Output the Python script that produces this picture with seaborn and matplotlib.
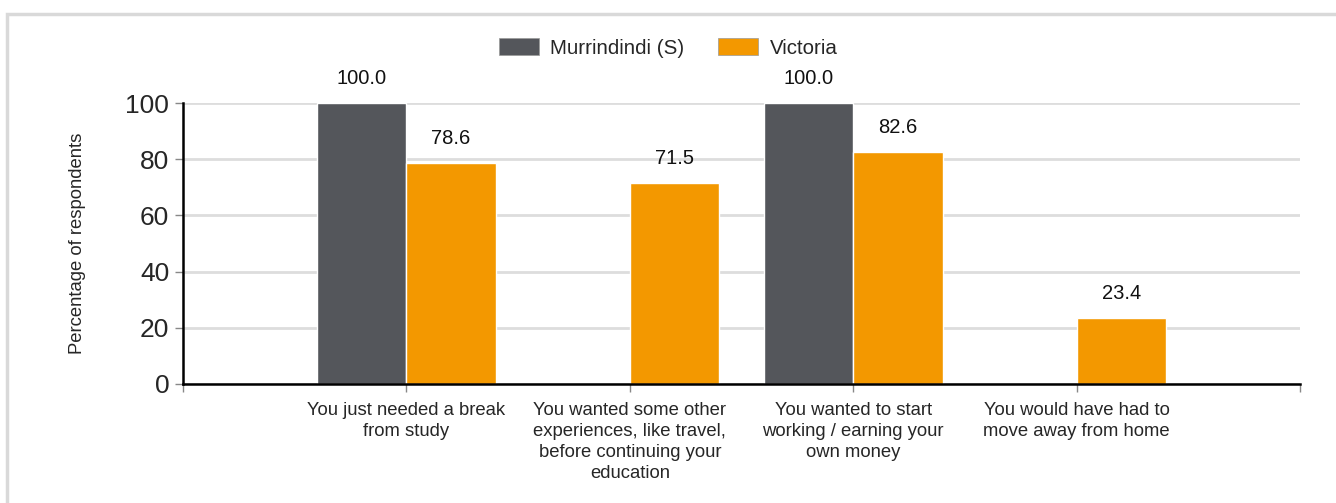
import matplotlib.pyplot as plt
import matplotlib.patches as mpatches
import pandas as pd
import seaborn as sns

categories = [
    "You just needed a break\nfrom study",
    "You wanted some other\nexperiences, like travel,\nbefore continuing your\neducation",
    "You wanted to start\nworking / earning your\nown money",
    "You would have had to\nmove away from home",
]
series = ["Murrindindi (S)", "Victoria"]
murrindindi = [100.0, None, 100.0, None]
victoria = [78.6, 71.5, 82.6, 23.4]
colors = ["#54565b", "#f39800"]
yticks = [0, 20, 40, 60, 80, 100]

df = pd.DataFrame({
    "category": categories * 2,
    "area": [series[0]] * 4 + [series[1]] * 4,
    "value": murrindindi + victoria,
})

sns.set_style("white")
plt.rcParams["font.family"] = ["Liberation Sans", "DejaVu Sans"]

fig, ax = plt.subplots(figsize=(13.36, 5.03), dpi=100)
fig.subplots_adjust(left=0.137, right=0.973, top=0.795, bottom=0.237)

sns.barplot(data=df, x="category", y="value", hue="area", order=categories,
            hue_order=series, palette=colors, width=0.8, saturation=1,
            ax=ax, legend=False)

for cont in ax.containers:
    labels = []
    for b in cont:
        h = b.get_height()
        labels.append("" if pd.isna(h) or h == 0 else f"{h:.1f}")
    ax.bar_label(cont, labels=labels, padding=11, fontsize=14.5, color="#111111")

ax.set_xlim(-1, 4)
ax.set_ylim(0, 100)
ax.set_yticks(yticks)
ax.set_yticklabels([str(t) for t in yticks], fontsize=19)
ax.set_xticks([-1, 0, 1, 2, 3, 4])
ax.set_xticklabels([""] + categories + [""], fontsize=13.3, linespacing=1.32)
ax.set_xlabel("")
ax.set_ylabel("Percentage of respondents", fontsize=13.3, labelpad=28)

ax.yaxis.grid(True, color="#dddddd", linewidth=2)
ax.set_axisbelow(True)
for s in ["top", "right"]:
    ax.spines[s].set_visible(False)
for s in ["left", "bottom"]:
    ax.spines[s].set_color("black")
    ax.spines[s].set_linewidth(1.8)
ax.tick_params(axis="both", which="both", direction="out", length=6,
               width=1, color="#888888", bottom=True, left=True)
ax.tick_params(axis="x", pad=7)
ax.tick_params(axis="y", pad=4)

handles = [mpatches.Patch(facecolor=c, edgecolor="#999999", linewidth=0.5) for c in colors]
fig.legend(handles, series, loc="center", bbox_to_anchor=(0.5, 0.905), ncol=2,
           frameon=False, fontsize=14.8, handlelength=1.95, handleheight=0.9,
           columnspacing=1.65, handletextpad=0.55)

fig.patches.append(mpatches.Rectangle((7 / 1336, -0.01), 1.02, 1 - 14 / 503 + 0.01,
                                      transform=fig.transFigure, fill=False,
                                      edgecolor="#d9d9d9", linewidth=2.5))

fig.savefig("out.png", dpi=100)
